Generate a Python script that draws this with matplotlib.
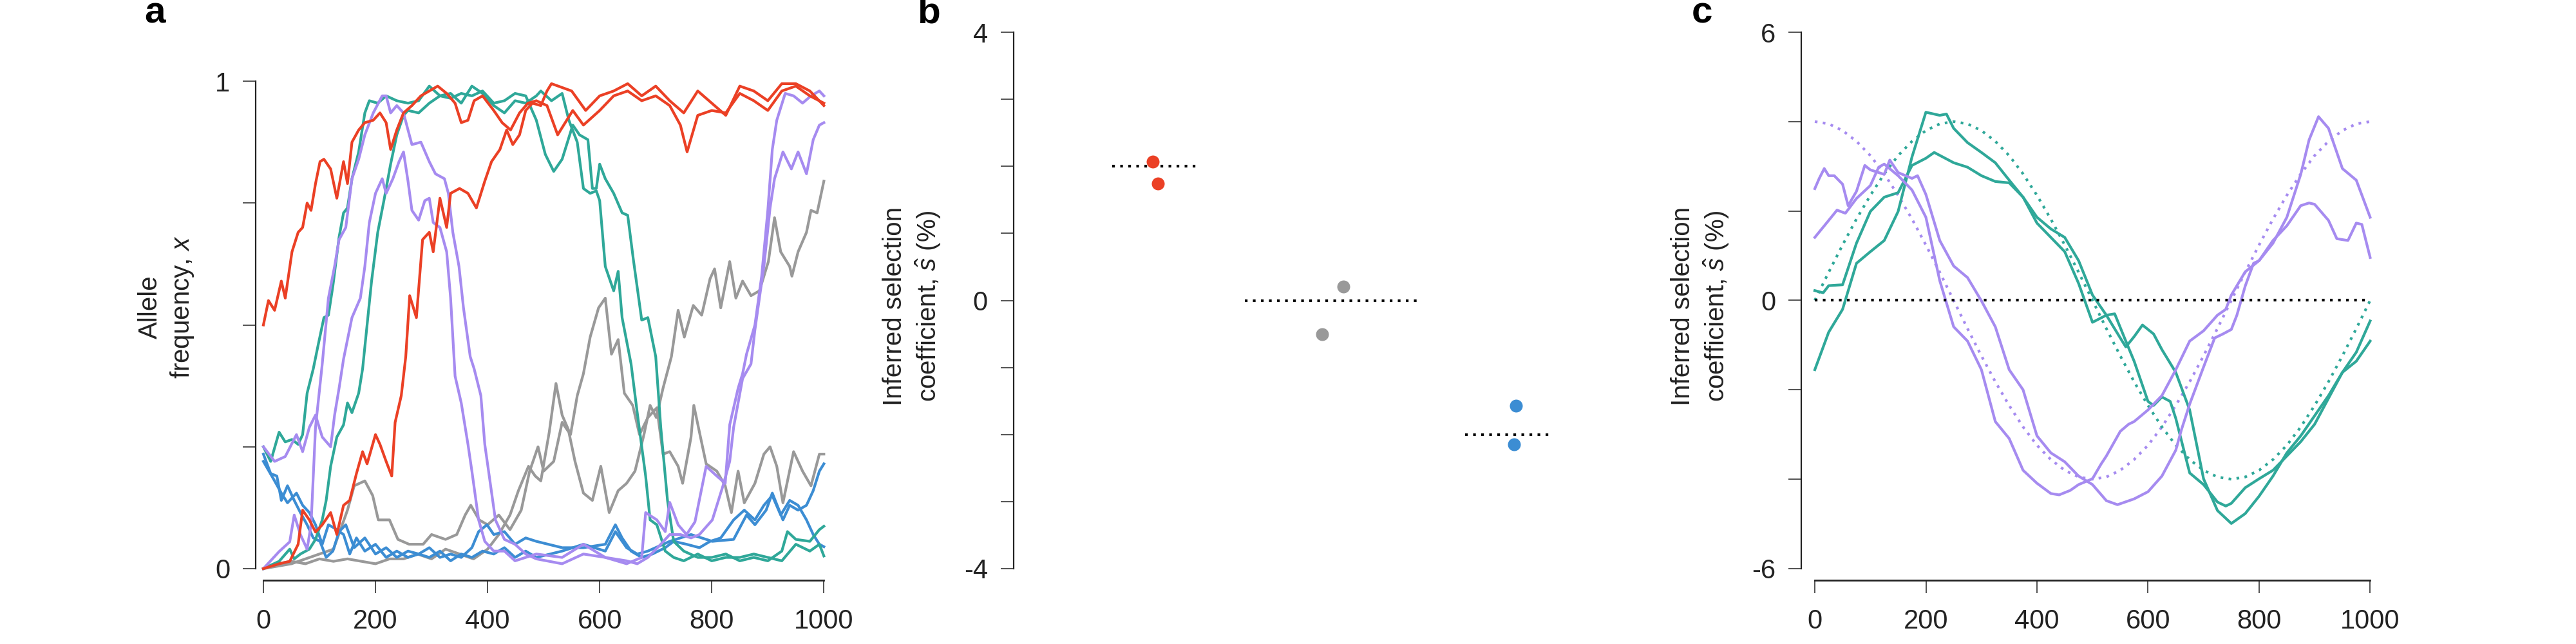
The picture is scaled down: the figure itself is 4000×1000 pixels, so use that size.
import matplotlib
matplotlib.use('Agg')
import matplotlib.pyplot as plt

plt.rcParams['font.family'] = ['Liberation Sans', 'DejaVu Sans']
plt.rcParams['mathtext.fontset'] = 'custom'
plt.rcParams['mathtext.rm'] = 'Liberation Sans'
plt.rcParams['mathtext.it'] = 'Liberation Sans:italic'
plt.rcParams['axes.unicode_minus'] = False

# colours
C_BEN = '#EB4025'
C_NEU = '#999999'
C_DEL = '#3C8DD3'
C_TEAL = '#2FA899'
C_PURP = '#A68BF0'
C_AXIS = '#222222'

# ---- panel a: allele frequency trajectories (generation, frequency) ----
red1_gen = [0, 9, 20, 32, 39, 51, 62, 70, 78, 85, 93, 101, 108, 120, 131, 143, 150, 158, 170, 181,
            196, 208, 219, 227, 238, 250, 265, 281, 296, 311, 327, 342, 353, 365, 376, 391, 411, 426,
            441, 457, 472, 487, 506, 525, 552, 571, 600, 625, 650, 675, 700, 725, 744, 756, 775, 800,
            825, 850, 875, 900, 925, 950, 975, 1000]
red1_freq = [0.50, 0.55, 0.53, 0.59, 0.555, 0.65, 0.69, 0.70, 0.75, 0.735, 0.79, 0.835, 0.84, 0.82,
             0.76, 0.835, 0.79, 0.875, 0.90, 0.915, 0.92, 0.935, 0.915, 0.86, 0.90, 0.935, 0.95, 0.97,
             0.98, 0.99, 0.975, 0.955, 0.915, 0.92, 0.96, 0.97, 0.94, 0.915, 0.90, 0.935, 0.955, 0.96,
             0.95, 0.89, 0.94, 0.91, 0.94, 0.97, 0.98, 0.96, 0.97, 0.95, 0.91, 0.855, 0.93, 0.94,
             0.935, 0.975, 0.96, 0.94, 0.98, 0.99, 0.97, 0.955]

red2_gen = [0, 28, 47, 62, 70, 82, 93, 105, 120, 131, 143, 154, 166, 177, 185, 200, 208, 219, 229,
            235, 246, 254, 261, 273, 284, 296, 303, 315, 327, 334, 350, 365, 380, 395, 407, 422, 434,
            445, 457, 468, 480, 495, 506, 514, 550, 575, 600, 625, 650, 675, 700, 725, 750, 775, 800,
            825, 850, 875, 900, 925, 950, 975, 1000]
red2_freq = [0.0, 0.01, 0.015, 0.05, 0.12, 0.10, 0.075, 0.09, 0.115, 0.07, 0.13, 0.14, 0.195, 0.24,
             0.215, 0.275, 0.255, 0.22, 0.19, 0.30, 0.355, 0.435, 0.56, 0.515, 0.675, 0.69, 0.65,
             0.76, 0.70, 0.77, 0.78, 0.77, 0.74, 0.795, 0.835, 0.86, 0.90, 0.87, 0.89, 0.94, 0.955,
             0.95, 0.98, 0.995, 0.98, 0.94, 0.97, 0.98, 0.995, 0.97, 0.99, 0.96, 0.935, 0.98, 0.955,
             0.93, 0.99, 0.98, 0.96, 0.995, 0.995, 0.98, 0.95]

gray1_gen = [0, 25, 50, 75, 100, 125, 150, 175, 200, 225, 250, 275, 300, 325, 350, 375, 400, 420,
             440, 455, 473, 485, 495, 510, 522, 533, 548, 560, 571, 583, 598, 610, 621, 633, 644,
             659, 671, 686, 702, 713, 725, 740, 748, 763, 768, 778, 790, 809, 824, 835, 847, 858,
             877, 893, 904, 916, 927, 946, 962, 977, 992, 1000]
gray1_freq = [0.0, 0.01, 0.015, 0.01, 0.02, 0.015, 0.02, 0.015, 0.01, 0.02, 0.02, 0.03, 0.02, 0.04,
              0.03, 0.02, 0.04, 0.07, 0.11, 0.16, 0.21, 0.19, 0.18, 0.28, 0.38, 0.315, 0.275, 0.355,
              0.40, 0.475, 0.535, 0.555, 0.44, 0.47, 0.36, 0.335, 0.275, 0.31, 0.33, 0.235, 0.24,
              0.21, 0.175, 0.27, 0.335, 0.28, 0.215, 0.20, 0.17, 0.115, 0.20, 0.135, 0.175, 0.235,
              0.25, 0.21, 0.135, 0.24, 0.20, 0.17, 0.235, 0.235]

gray2_gen = [0, 25, 50, 75, 100, 125, 150, 162, 181, 195, 205, 225, 240, 260, 285, 300, 325, 345,
             360, 370, 385, 400, 420, 440, 460, 475, 490, 500, 518, 533, 545, 556, 571, 587, 602,
             617, 633, 648, 663, 679, 690, 701, 713, 728, 740, 751, 767, 782, 797, 805, 816, 832,
             843, 855, 870, 885, 901, 912, 923, 939, 943, 954, 969, 977, 988, 1000]
gray2_freq = [0.0, 0.005, 0.01, 0.02, 0.03, 0.04, 0.12, 0.17, 0.18, 0.15, 0.10, 0.10, 0.06, 0.05,
              0.05, 0.07, 0.06, 0.07, 0.11, 0.13, 0.10, 0.09, 0.11, 0.08, 0.12, 0.20, 0.25, 0.20,
              0.22, 0.30, 0.28, 0.22, 0.155, 0.14, 0.21, 0.115, 0.16, 0.175, 0.20, 0.275, 0.335,
              0.31, 0.37, 0.435, 0.53, 0.475, 0.54, 0.52, 0.595, 0.615, 0.535, 0.63, 0.555, 0.59,
              0.56, 0.57, 0.63, 0.72, 0.65, 0.62, 0.60, 0.65, 0.69, 0.735, 0.73, 0.795]

blue1_gen = [0, 13, 24, 32, 43, 55, 66, 78, 89, 101, 112, 124, 135, 147, 162, 181, 200, 219, 238,
             258, 277, 296, 315, 334, 353, 372, 384, 399, 411, 430, 449, 468, 487, 533, 571, 610,
             628, 640, 656, 675, 694, 717, 732, 755, 778, 797, 816, 839, 858, 877, 893, 908, 923,
             939, 954, 969, 981, 992, 1000]
blue1_freq = [0.235, 0.195, 0.19, 0.14, 0.17, 0.14, 0.115, 0.09, 0.063, 0.056, 0.023, 0.036, 0.076,
              0.09, 0.043, 0.063, 0.03, 0.043, 0.023, 0.036, 0.03, 0.043, 0.023, 0.03, 0.023, 0.043,
              0.076, 0.09, 0.07, 0.076, 0.05, 0.063, 0.056, 0.043, 0.043, 0.05, 0.09, 0.063, 0.036,
              0.023, 0.03, 0.043, 0.056, 0.05, 0.043, 0.056, 0.063, 0.10, 0.12, 0.10, 0.13, 0.15,
              0.11, 0.14, 0.13, 0.10, 0.07, 0.05, 0.045]

blue2_gen = [0, 20, 32, 43, 59, 70, 82, 93, 105, 116, 127, 143, 154, 166, 181, 200, 219, 238, 258,
             277, 296, 315, 334, 353, 372, 391, 411, 430, 449, 468, 487, 533, 571, 610, 628, 648,
             667, 686, 725, 763, 801, 839, 862, 877, 897, 908, 927, 939, 954, 969, 981, 992, 1000]
blue2_freq = [0.22, 0.18, 0.155, 0.135, 0.155, 0.13, 0.115, 0.09, 0.05, 0.09, 0.083, 0.07, 0.03,
              0.063, 0.036, 0.05, 0.023, 0.036, 0.023, 0.03, 0.023, 0.036, 0.016, 0.03, 0.023,
              0.036, 0.03, 0.043, 0.023, 0.036, 0.023, 0.036, 0.05, 0.036, 0.076, 0.043, 0.03,
              0.036, 0.056, 0.07, 0.056, 0.06, 0.11, 0.09, 0.12, 0.155, 0.10, 0.13, 0.12, 0.13, 0.16,
              0.20, 0.215]

teal1_gen = [0, 13, 28, 39, 51, 62, 70, 78, 89, 97, 108, 116, 124, 135, 143, 150, 158, 170, 181,
             189, 204, 219, 238, 258, 277, 296, 315, 334, 353, 372, 391, 411, 430, 449, 468, 487,
             495, 514, 533, 545, 560, 571, 583, 594, 600, 610, 625, 633, 640, 656, 667, 682, 690,
             702, 717, 732, 750, 775, 800, 825, 850, 875, 900, 925, 950, 975, 992, 1000]
teal1_freq = [0.25, 0.22, 0.28, 0.26, 0.265, 0.255, 0.275, 0.36, 0.41, 0.455, 0.515, 0.52, 0.58,
              0.68, 0.73, 0.74, 0.80, 0.855, 0.935, 0.96, 0.955, 0.97, 0.96, 0.955, 0.96, 0.99,
              0.97, 0.975, 0.955, 0.99, 0.975, 0.95, 0.935, 0.96, 0.955, 0.97, 0.98, 0.96, 0.975,
              0.92, 0.875, 0.78, 0.77, 0.775, 0.755, 0.62, 0.57, 0.61, 0.515, 0.42, 0.32, 0.19,
              0.10, 0.09, 0.036, 0.023, 0.016, 0.03, 0.016, 0.023, 0.023, 0.03, 0.023, 0.016, 0.05,
              0.036, 0.05, 0.026]

teal2_gen = [0, 28, 47, 55, 66, 82, 93, 105, 112, 120, 131, 143, 150, 158, 170, 177, 185, 193, 204,
             215, 227, 238, 250, 258, 277, 296, 315, 334, 353, 372, 391, 411, 430, 449, 468, 487,
             503, 518, 533, 552, 564, 579, 587, 594, 600, 610, 625, 640, 650, 660, 675, 686, 700,
             709, 721, 732, 750, 775, 800, 825, 850, 875, 900, 925, 935, 950, 975, 992, 1000]
teal2_freq = [0.0, 0.015, 0.04, 0.02, 0.03, 0.04, 0.06, 0.10, 0.14, 0.21, 0.27, 0.295, 0.34, 0.32,
              0.36, 0.41, 0.50, 0.59, 0.69, 0.755, 0.83, 0.89, 0.93, 0.94, 0.935, 0.955, 0.97, 0.965,
              0.975, 0.97, 0.98, 0.955, 0.96, 0.975, 0.97, 0.92, 0.85, 0.815, 0.84, 0.91, 0.89,
              0.88, 0.78, 0.78, 0.83, 0.80, 0.77, 0.73, 0.725, 0.635, 0.51, 0.515, 0.435, 0.29, 0.14,
              0.056, 0.036, 0.023, 0.023, 0.03, 0.016, 0.023, 0.016, 0.036, 0.076, 0.06, 0.056,
              0.08, 0.087]

purp1_gen = [0, 28, 47, 55, 66, 78, 85, 93, 105, 116, 127, 135, 147, 158, 170, 181, 196, 212, 219,
             227, 238, 250, 258, 265, 281, 296, 307, 323, 330, 338, 349, 357, 369, 376, 388, 395,
             403, 414, 430, 449, 468, 487, 533, 571, 610, 648, 675, 682, 702, 717, 725, 740, 755,
             770, 790, 809, 824, 832, 847, 855, 862, 877, 889, 900, 908, 916, 931, 946, 962, 977,
             992, 1000]
purp1_freq = [0.0, 0.035, 0.055, 0.11, 0.07, 0.04, 0.09, 0.29, 0.42, 0.555, 0.62, 0.675, 0.70, 0.80,
              0.84, 0.89, 0.935, 0.97, 0.97, 0.935, 0.95, 0.935, 0.90, 0.87, 0.875, 0.835, 0.81,
              0.80, 0.77, 0.69, 0.62, 0.535, 0.435, 0.41, 0.355, 0.255, 0.19, 0.10, 0.06, 0.05,
              0.03, 0.02, 0.01, 0.03, 0.023, 0.01, 0.023, 0.115, 0.10, 0.076, 0.136, 0.09, 0.07,
              0.096, 0.21, 0.19, 0.175, 0.295, 0.37, 0.40, 0.44, 0.50, 0.60, 0.735, 0.86, 0.92,
              0.975, 0.97, 0.955, 0.97, 0.98, 0.97]

purp2_gen = [0, 20, 39, 59, 70, 82, 93, 105, 120, 127, 135, 143, 158, 173, 181, 189, 200, 212, 219,
             231, 242, 250, 258, 265, 277, 288, 296, 303, 315, 327, 334, 342, 353, 365, 372, 384,
             395, 411, 430, 449, 468, 487, 533, 571, 610, 648, 667, 686, 709, 725, 744, 763, 778,
             801, 820, 832, 839, 855, 870, 877, 893, 904, 912, 927, 942, 954, 969, 981, 992, 1000]
purp2_freq = [0.25, 0.22, 0.23, 0.275, 0.24, 0.29, 0.315, 0.27, 0.25, 0.315, 0.37, 0.43, 0.515,
              0.555, 0.62, 0.71, 0.77, 0.80, 0.77, 0.80, 0.835, 0.855, 0.795, 0.735, 0.715, 0.755,
              0.76, 0.71, 0.70, 0.65, 0.555, 0.395, 0.34, 0.255, 0.20, 0.10, 0.056, 0.036, 0.036,
              0.016, 0.023, 0.03, 0.023, 0.05, 0.023, 0.016, 0.01, 0.023, 0.05, 0.07, 0.07, 0.063,
              0.07, 0.10, 0.17, 0.22, 0.29, 0.39, 0.42, 0.49, 0.62, 0.74, 0.80, 0.855, 0.82, 0.855,
              0.81, 0.88, 0.91, 0.915]

# ---- panel b: inferred coefficients for constant selection ----
b_true = [2.0, 0.0, -2.0]
b_ben = [2.07, 1.74]
b_neu = [0.21, -0.50]
b_del = [-1.57, -2.15]

# ---- panel c: inferred coefficients for time-varying selection ----
c_gen = [0, 25, 50, 75, 100, 125, 150, 175, 200, 225, 250, 275, 300, 325, 350, 375, 400, 425, 450,
         475, 500, 525, 550, 575, 600, 625, 650, 675, 700, 725, 750, 775, 800, 825, 850, 875, 900,
         925, 950, 975, 1000]
c_true_purp = [4.00, 3.95, 3.80, 3.56, 3.24, 2.83, 2.35, 1.82, 1.24, 0.63, 0.00, -0.63, -1.24, -1.82,
               -2.35, -2.83, -3.24, -3.56, -3.80, -3.95, -4.00, -3.95, -3.80, -3.56, -3.24, -2.83,
               -2.35, -1.82, -1.24, -0.63, 0.00, 0.63, 1.24, 1.82, 2.35, 2.83, 3.24, 3.56, 3.80,
               3.95, 4.00]
c_true_teal = [0.00, 0.63, 1.24, 1.82, 2.35, 2.83, 3.24, 3.56, 3.80, 3.95, 4.00, 3.95, 3.80, 3.56,
               3.24, 2.83, 2.35, 1.82, 1.24, 0.63, 0.00, -0.63, -1.24, -1.82, -2.35, -2.83, -3.24,
               -3.56, -3.80, -3.95, -4.00, -3.95, -3.80, -3.56, -3.24, -2.83, -2.35, -1.82, -1.24,
               -0.63, 0.00]

tealA_gen = [0, 25, 50, 75, 100, 125, 150, 175, 200, 225, 237, 250, 275, 300, 325, 350, 375, 400,
             425, 450, 475, 500, 525, 550, 560, 575, 590, 610, 625, 650, 675, 700, 725, 750, 775,
             800, 825, 850, 875, 900, 925, 950, 975, 1000]
tealA_s = [-1.55, -0.71, -0.20, 0.83, 1.09, 1.34, 1.99, 3.21, 4.21, 4.14, 4.17, 3.85, 3.53, 3.31,
           3.08, 2.69, 2.31, 1.86, 1.60, 1.41, 0.89, 0.12, -0.33, -0.84, -1.04, -0.81, -0.55, -0.75,
           -1.10, -1.61, -2.45, -3.99, -4.70, -4.99, -4.77, -4.38, -3.93, -3.41, -3.03, -2.58,
           -2.13, -1.61, -1.16, -0.46]

tealB_gen = [0, 15, 25, 50, 75, 100, 125, 150, 175, 200, 215, 250, 275, 300, 325, 350, 375, 400,
             425, 450, 475, 500, 525, 540, 560, 575, 600, 610, 625, 640, 650, 675, 700, 725, 740,
             750, 775, 800, 825, 850, 875, 900, 925, 950, 975, 1000]
tealB_s = [0.22, 0.17, 0.33, 0.35, 1.28, 1.99, 2.31, 2.41, 3.02, 3.18, 3.31, 3.08, 2.98, 2.79, 2.66,
           2.63, 2.31, 1.73, 1.41, 1.09, 0.38, -0.49, -0.33, -0.30, -0.91, -1.36, -2.26, -2.35,
           -2.16, -2.26, -2.64, -3.86, -4.12, -4.51, -4.60, -4.54, -4.19, -3.99, -3.80, -3.48,
           -3.16, -2.77, -2.19, -1.61, -1.36, -0.91]

purpA_gen = [0, 25, 40, 55, 75, 100, 115, 125, 150, 175, 200, 225, 250, 275, 300, 325, 350, 375,
             400, 425, 440, 460, 475, 500, 515, 525, 550, 565, 575, 600, 625, 650, 675, 700, 725,
             740, 750, 775, 800, 825, 850, 875, 890, 907, 925, 950, 975, 1000]
purpA_s = [1.41, 1.79, 2.02, 1.95, 2.28, 2.57, 2.98, 3.05, 2.79, 2.47, 1.86, 0.44, -0.59, -0.91,
           -1.55, -2.71, -3.09, -3.80, -4.09, -4.32, -4.35, -4.25, -4.12, -3.99, -3.67, -3.48, -2.93,
           -2.77, -2.71, -2.45, -2.13, -1.55, -0.91, -0.68, -0.33, -0.20, 0.12, 0.64, 0.89, 1.28,
           1.86, 2.82, 3.59, 4.11, 3.85, 2.95, 2.69, 1.86]

purpB_gen = [0, 8, 17, 25, 35, 50, 60, 75, 90, 100, 125, 135, 150, 175, 185, 200, 225, 250, 275,
             300, 325, 350, 375, 400, 425, 450, 475, 500, 525, 545, 575, 600, 625, 650, 660, 675,
             700, 720, 735, 750, 760, 775, 790, 800, 825, 850, 875, 890, 900, 925, 940, 960, 975,
             985, 1000]
purpB_s = [2.50, 2.73, 2.95, 2.79, 2.79, 2.60, 2.12, 2.44, 3.02, 2.92, 2.82, 3.14, 2.86, 2.73, 2.79,
           2.37, 1.34, 0.77, 0.51, -0.01, -0.59, -1.55, -2.00, -3.03, -3.41, -3.61, -3.93, -4.12,
           -4.48, -4.57, -4.44, -4.28, -3.93, -3.35, -2.90, -2.32, -1.49, -0.84, -0.75, -0.65,
           -0.33, 0.32, 0.83, 0.89, 1.34, 1.67, 2.12, 2.18, 2.15, 1.79, 1.38, 1.34, 1.73, 1.70,
           0.96]

W, H = 4000, 1000
fig = plt.figure(figsize=(20, 5), dpi=200)


def add_axes_px(left, right, top, bottom):
    return fig.add_axes([left / W, 1 - bottom / H, (right - left) / W, (bottom - top) / H])


def style_axes(ax):
    for side in ['top', 'right']:
        ax.spines[side].set_visible(False)
    ax.spines['left'].set_linewidth(0.8)
    ax.spines['bottom'].set_linewidth(1.0)
    for side in ['left', 'bottom']:
        ax.spines[side].set_color(C_AXIS)
    ax.tick_params(direction='out', length=7.2, width=0.55, pad=7.2, labelsize=15,
                   color=C_AXIS, labelcolor=C_AXIS)
    ax.tick_params(axis='x', pad=8.5)


dots = (0, (1, 2))
lw = 1.5

#
#   a - trajectories
#
ax_a = add_axes_px(397, 1288, 111, 901)
style_axes(ax_a)
trajs = [(gray1_gen, gray1_freq, C_NEU), (gray2_gen, gray2_freq, C_NEU),
         (blue1_gen, blue1_freq, C_DEL), (blue2_gen, blue2_freq, C_DEL),
         (teal1_gen, teal1_freq, C_TEAL), (teal2_gen, teal2_freq, C_TEAL),
         (purp1_gen, purp1_freq, C_PURP), (purp2_gen, purp2_freq, C_PURP),
         (red1_gen, red1_freq, C_BEN), (red2_gen, red2_freq, C_BEN)]
for g, f, c in trajs:
    ax_a.plot(g, f, color=c, lw=lw, solid_joinstyle='round')
ax_a.set_xlim(-13.8, 1010)
ax_a.set_ylim(-0.0238, 1.02)
ax_a.spines['left'].set_bounds(0, 1)
ax_a.spines['bottom'].set_bounds(0, 1000)
ax_a.set_yticks([0, 0.25, 0.5, 0.75, 1])
ax_a.set_yticklabels(['0', '', '', '', '1'])
ax_a.set_xticks([0, 200, 400, 600, 800, 1000])

#
#   b - constant selection
#
ax_b = add_axes_px(1574, 2480, 50, 883)
style_axes(ax_b)
ax_b.spines['bottom'].set_visible(False)
ax_b.set_xlim(0.19, 3.5)
ax_b.set_ylim(-4, 4)
ax_b.set_xticks([])
ax_b.set_yticks(range(-4, 5))
ax_b.set_yticklabels(['-4', '', '', '', '0', '', '', '', '4'])

half = [0.25, 0.5, 0.25]
centers = [1, 2, 3]
for xc, hw, s in zip(centers, half, b_true):
    ax_b.plot([xc - hw, xc + hw], [s, s], color='k', lw=1.5, ls=dots)
ax_b.plot([0.98, 1.01], b_ben, 'o', color=C_BEN, ms=7.2, mec='none')
ax_b.plot([2.06, 1.94], b_neu, 'o', color=C_NEU, ms=7.2, mec='none')
ax_b.plot([3.04, 3.03], b_del, 'o', color=C_DEL, ms=7.2, mec='none')

#
#   c - time-varying selection
#
ax_c = add_axes_px(2797, 3689, 50, 901)
style_axes(ax_c)
ax_c.set_xlim(-24.4, 1010)
ax_c.set_ylim(-6.26, 6)
ax_c.spines['left'].set_bounds(-6, 6)
ax_c.spines['bottom'].set_bounds(0, 1000)
ax_c.set_yticks([-6, -4, -2, 0, 2, 4, 6])
ax_c.set_yticklabels(['-6', '', '', '0', '', '', '6'])
ax_c.set_xticks([0, 200, 400, 600, 800, 1000])

ax_c.plot(c_gen, c_true_purp, color=C_PURP, lw=1.5, ls=dots)
ax_c.plot(c_gen, c_true_teal, color=C_TEAL, lw=1.5, ls=dots)
ax_c.plot(tealA_gen, tealA_s, color=C_TEAL, lw=lw)
ax_c.plot(tealB_gen, tealB_s, color=C_TEAL, lw=lw)
ax_c.plot(purpA_gen, purpA_s, color=C_PURP, lw=lw)
ax_c.plot(purpB_gen, purpB_s, color=C_PURP, lw=lw)
ax_c.plot([0, 1000], [0, 0], color='k', lw=1.5, ls=dots)

#
#   labels
#
ylab_kw = dict(rotation=90, ha='center', va='center', size=14.5, linespacing=1.3,
               multialignment='center', color=C_AXIS)
fig.text(259 / W, 1 - 477 / H, 'Allele\nfrequency, $x$', **ylab_kw)
fig.text(1417 / W, 1 - 476 / H, 'Inferred selection\ncoefficient, $\\hat{s}$ (%)', **ylab_kw)
fig.text(2641 / W, 1 - 476 / H, 'Inferred selection\ncoefficient, $\\hat{s}$ (%)', **ylab_kw)

for x0, lab in [(224, 'a'), (1424, 'b'), (2627, 'c')]:
    fig.text(x0 / W, 1 - 35 / H, lab, size=21, weight='bold', ha='left', va='baseline')

fig.savefig('out.png', dpi=200)
